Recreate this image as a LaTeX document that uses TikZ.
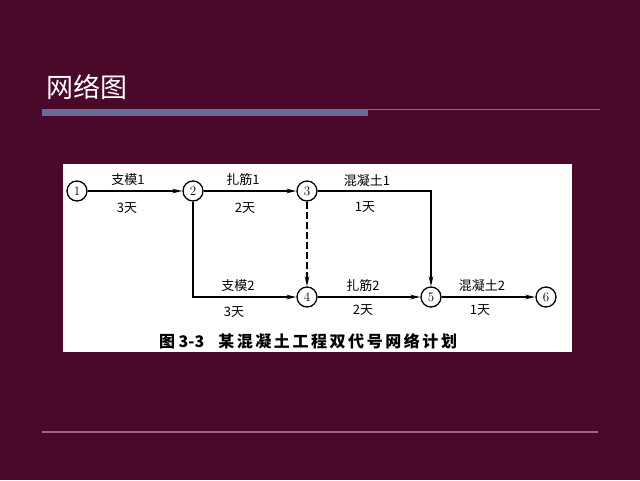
\documentclass[tikz,border=0pt]{standalone}
\usepackage{fontspec}
\newfontfamily\cjk{Noto Sans CJK SC}
\usetikzlibrary{arrows.meta,positioning}
\definecolor{slidebg}{RGB}{74,8,42}
\definecolor{barblue}{RGB}{108,108,156}
\definecolor{rulepink}{RGB}{150,100,140}

\begin{document}
\begin{tikzpicture}[x=1pt,y=-1pt,
  event/.style={draw,circle,line width=1.3pt,fill=white,minimum size=20pt,inner sep=0pt,font=\fontsize{13}{13}\selectfont},
  work/.style={line width=1.6pt,-{Stealth[length=10pt,width=4.5pt]}},
  dummy/.style={work,dash pattern=on 7pt off 3pt},
  lbl/.style={font=\cjk\fontsize{13}{13}\selectfont,inner sep=0pt}]
  % slide
  \fill[slidebg] (0,0) rectangle (640,480);
  \node[text=white,font=\cjk\fontsize{27}{27}\selectfont,anchor=west,inner sep=0pt] (title) at (46,87) {网络图};
  \fill[barblue] (42,109) rectangle (368,116);
  \draw[rulepink,line width=1pt] (368,109.5) -- (600,109.5);
  \draw[rulepink,line width=1.2pt] (42,432) -- (598,432);
  \fill[white] (63,164) rectangle (572,352);
  % events
  \node[event] (E-1) at (77,191) {1};
  \node[event] (E-2) at (193,191) {2};
  \node[event] (E-3) at (307,191) {3};
  \node[event] (E-4) at (307,297) {4};
  \node[event] (E-5) at (431,297) {5};
  \node[event] (E-6) at (546,297) {6};
  % works
  \draw[work] (E-1) -- (E-2);
  \draw[work] (E-2) -- (E-3);
  \draw[work] (E-2) |- (E-4);
  \draw[work] (E-3) -| (E-5);
  \draw[dummy] (E-3) -- (E-4);
  \draw[work] (E-4) -- (E-5);
  \draw[work] (E-5) -- (E-6);
  % labels
  \node[lbl] (L-12) at (128,180) {支模1};
  \node[lbl] (D-12) at (127,208) {3天};
  \node[lbl] (L-23) at (243,180) {扎筋1};
  \node[lbl] (D-23) at (245,208) {2天};
  \node[lbl] (L-35) at (367,181) {混凝土1};
  \node[lbl] (D-35) at (365,207) {1天};
  \node[lbl] (L-24) at (238,286) {支模2};
  \node[lbl] (D-24) at (234,312) {3天};
  \node[lbl] (L-45) at (363,286) {扎筋2};
  \node[lbl] (D-45) at (363,310) {2天};
  \node[lbl] (L-56) at (482,286) {混凝土2};
  \node[lbl] (D-56) at (480,310) {1天};
  % caption
  \node[font=\cjk\bfseries\fontsize{16}{16}\selectfont,inner sep=0pt] (caption) at (308,341)
    {图 3-3\hspace{14pt}{\addfontfeature{LetterSpace=16}某混凝土工程双代号网络计划}};
\end{tikzpicture}
\end{document}
